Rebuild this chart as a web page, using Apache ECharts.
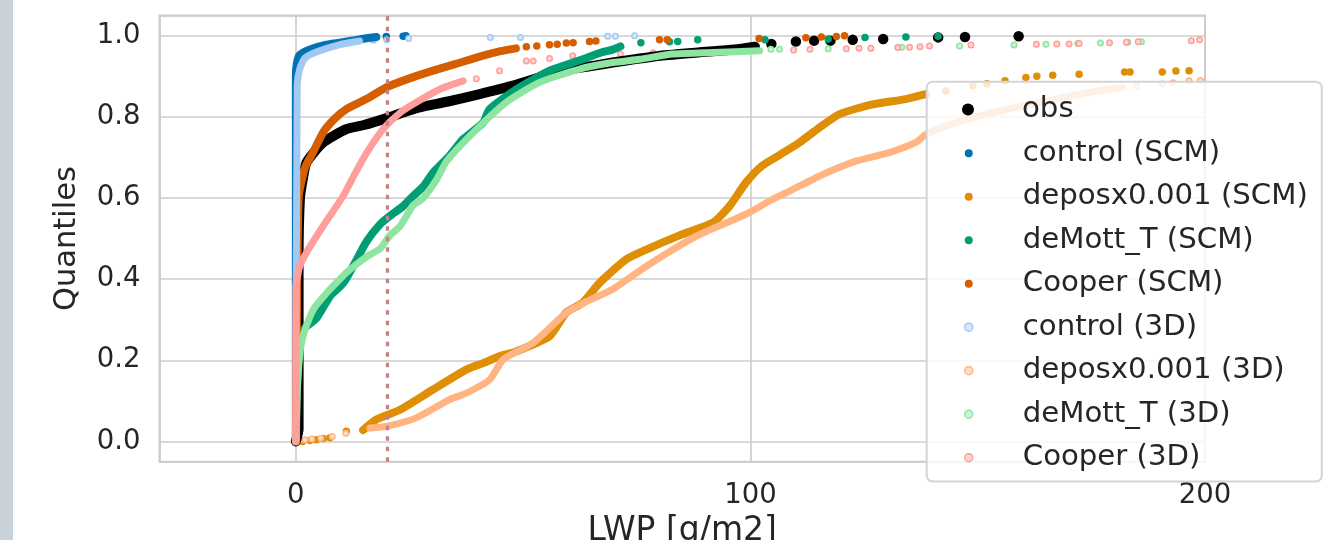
<!DOCTYPE html>
<html>
<head>
<meta charset="utf-8">
<script src="https://cdn.jsdelivr.net/npm/echarts@6/dist/echarts.min.js"></script>
<style>
  html, body { margin: 0; padding: 0; background: #fff; }
  #main { width: 1330px; height: 540px; }
</style>
</head>
<body>
<div id="main"></div>
<script>
// quantile curves of LWP [g/m2], pairs are [LWP, quantile]
// "Curve" = dense part (drawn as a thick line), "Tail" = sparse single points
const obsCurve = [[0, 0], [0.6, 0.03], [0.6, 0.45], [0.9, 0.6], [1.5, 0.645], [2.35, 0.688], [6, 0.737],
  [11.1, 0.77], [15, 0.78], [20, 0.797], [23.6, 0.811], [27, 0.823], [33.5, 0.838], [40, 0.855], [47.8, 0.877],
  [55.8, 0.905], [59.5, 0.916], [66, 0.927], [69.7, 0.934], [75, 0.943], [80.2, 0.951], [88.5, 0.959],
  [96.5, 0.966], [101, 0.973]];
const obsTail = [[104.6, 0.98], [110, 0.986], [114, 0.988], [117.6, 0.988], [122.5, 0.99], [129.2, 0.992],
  [141.3, 0.996], [147.2, 0.997], [159, 0.999]];

const controlScmCurve = [[0, 0], [0, 0.9], [0.2, 0.93], [0.8, 0.952], [3.1, 0.966], [6.7, 0.978],
  [11.9, 0.987], [15.5, 0.994], [17.7, 0.997]];
const controlScmTail = [[19.9, 0.998], [23.6, 0.999], [24.2, 1.0]];

const deposScmCurve = [[14.8, 0.028], [17.7, 0.054], [22.9, 0.078], [30.2, 0.128], [37.5, 0.177],
  [41.2, 0.193], [44.8, 0.21], [48.5, 0.222], [55.8, 0.259], [59.5, 0.318], [63.1, 0.342], [66.8, 0.391],
  [72.7, 0.449], [77.1, 0.473], [84.4, 0.508], [91.7, 0.539], [95.4, 0.58], [99, 0.638], [102.5, 0.679],
  [106.4, 0.706], [110.8, 0.737], [115.2, 0.774], [119.6, 0.807], [126.9, 0.831], [134.2, 0.844],
  [138.6, 0.856]];
const deposScmTail = [[1.5, 0.0], [3.1, 0.002], [4.5, 0.004], [6, 0.007], [7.5, 0.009], [11.1, 0.025],
  [143, 0.864], [148.9, 0.877], [152, 0.882], [156, 0.889], [160.6, 0.897], [163, 0.9], [166.5, 0.903],
  [172.3, 0.905], [182.3, 0.911], [183.5, 0.911], [190.6, 0.911], [193.6, 0.913], [196.5, 0.914]];

const demottScmCurve = [[0, 0], [0.3, 0.15], [0.9, 0.26], [2, 0.28], [4.6, 0.305], [7.5, 0.358],
  [10.4, 0.39], [13, 0.44], [15.5, 0.492], [18.5, 0.535], [20.7, 0.556], [23.6, 0.58], [25.8, 0.605],
  [28, 0.628], [30.2, 0.663], [33.8, 0.704], [36.8, 0.745], [41.2, 0.786], [42.6, 0.819], [48.5, 0.868],
  [55.8, 0.914], [63.1, 0.942], [67, 0.958], [69.7, 0.966], [71.4, 0.974]];
const demottScmTail = [[75.9, 0.983], [82.2, 0.985], [84, 0.986], [88.4, 0.99], [103.2, 0.99],
  [117.1, 0.992], [125.2, 0.996], [134.2, 0.997], [141.3, 0.999]];

const cooperScmCurve = [[0, 0], [0.3, 0.4], [0.6, 0.6], [1.2, 0.64], [2.2, 0.68], [3.8, 0.713], [6, 0.762],
  [8.5, 0.795], [11.1, 0.819], [15.5, 0.844], [19.9, 0.873], [25, 0.895], [30.2, 0.914], [35, 0.93],
  [41.2, 0.951], [45, 0.962], [48.4, 0.969]];
const cooperScmTail = [[50.7, 0.973], [53, 0.975], [55.8, 0.978], [57.5, 0.979], [59.5, 0.982], [61, 0.983],
  [64.6, 0.986], [66, 0.987], [80, 0.99], [81.7, 0.99], [101.9, 0.993], [112.2, 0.995], [115.6, 0.997],
  [118.9, 0.998], [120.7, 1.0]];

const control3dCurve = [[0, 0], [0.3, 0.88], [0.9, 0.92], [2, 0.945], [4.5, 0.96], [9.7, 0.978], [14, 0.987]];
const control3dTail = [[17, 0.989], [20, 0.99], [24.8, 0.993], [42.8, 0.996], [49.4, 0.996], [68.6, 0.999],
  [70.3, 0.999], [74.5, 1.0]];

const depos3dCurve = [[16.3, 0.033], [19.9, 0.037], [26.5, 0.058], [33.8, 0.103], [37.5, 0.119],
  [42.6, 0.152], [45.6, 0.202], [52.2, 0.243], [59.5, 0.317], [64, 0.345], [69.7, 0.375], [77.1, 0.432],
  [88.1, 0.506], [99, 0.56], [104.9, 0.597], [108.6, 0.617], [115.9, 0.658], [123.2, 0.691], [130.5, 0.712],
  [136.4, 0.737], [138.6, 0.757], [145.2, 0.786], [151.8, 0.807], [159.8, 0.827], [167.2, 0.844],
  [174.5, 0.86], [181.8, 0.873]];
const depos3dTail = [[0.8, 0.002], [2, 0.004], [3.5, 0.006], [5.5, 0.008], [8, 0.012], [11, 0.02],
  [185, 0.876], [190.6, 0.881], [193, 0.884], [196.5, 0.889], [199, 0.89]];

const demott3dCurve = [[0, 0], [0.3, 0.12], [0.9, 0.219], [1.6, 0.26], [2.3, 0.284], [3.8, 0.325],
  [7.5, 0.375], [9.7, 0.4], [11.1, 0.416], [15.5, 0.455], [18.5, 0.475], [20.7, 0.508], [22.9, 0.53],
  [25.8, 0.582], [28, 0.6], [31, 0.646], [33.1, 0.69], [39, 0.761], [46.3, 0.836], [53.6, 0.885],
  [62.4, 0.918], [69.7, 0.934], [75.6, 0.942], [82.9, 0.955], [91.7, 0.959], [102, 0.963]];
const demott3dTail = [[104.5, 0.967], [106.4, 0.967], [117.1, 0.968], [133.3, 0.972], [146, 0.975],
  [158, 0.977], [165, 0.979], [172, 0.981], [177, 0.982], [183, 0.984], [186, 0.985]];

const cooper3dCurve = [[0, 0], [0, 0.38], [0.8, 0.43], [2.35, 0.466], [6, 0.531], [10.4, 0.605],
  [13, 0.66], [15.5, 0.71], [19.2, 0.77], [22.9, 0.81], [26.5, 0.836], [32, 0.87], [36.8, 0.889]];
const cooper3dTail = [[39.7, 0.894], [44.8, 0.914], [50.7, 0.938], [52.2, 0.938], [55.8, 0.944],
  [60.9, 0.951], [65.5, 0.952], [71.4, 0.955], [78.6, 0.958], [84, 0.959], [91.1, 0.96], [93.4, 0.962],
  [109.5, 0.965], [113.1, 0.967], [121.1, 0.968], [123.9, 0.969], [126.5, 0.969], [132.4, 0.971],
  [135, 0.972], [137.3, 0.973], [139.4, 0.975], [148.5, 0.977], [162.9, 0.979], [167.4, 0.98],
  [170.1, 0.98], [172.3, 0.981], [179, 0.983], [182.7, 0.984], [185.3, 0.985], [197, 0.988], [198.8, 0.99]];

const xTicksMin = -30, xTicksMax = 200;
const yTicksMin = -0.05, yTicksMax = 1.05;
const refLine = 20;

const FONT = 'DejaVu Sans';
const TXT = '#262626';

// name, curve, tail, colour, fill, line width, dot size
const groups = [
  ['obs', obsCurve, obsTail, '#000000', '#000000', 10, 10.5],
  ['control (SCM)', controlScmCurve, controlScmTail, '#0173b2', '#0173b2', 8, 7.5],
  ['deposx0.001 (SCM)', deposScmCurve, deposScmTail, '#de8f05', '#de8f05', 8, 7.5],
  ['deMott_T (SCM)', demottScmCurve, demottScmTail, '#029e73', '#029e73', 8, 7.5],
  ['Cooper (SCM)', cooperScmCurve, cooperScmTail, '#d55e00', '#d55e00', 8, 7.5],
  ['control (3D)', control3dCurve, control3dTail, '#a1c9f4', '#d6e8fb', 7, 5.5],
  ['deposx0.001 (3D)', depos3dCurve, depos3dTail, '#ffb482', '#ffdcc4', 7, 5.5],
  ['deMott_T (3D)', demott3dCurve, demott3dTail, '#8de5a1', '#cdf4d5', 7, 5.5],
  ['Cooper (3D)', cooper3dCurve, cooper3dTail, '#ff9f9b', '#ffd4d2', 7, 5.5],
];

const series = [];
groups.forEach(function (g) {
  const ring = g[4] !== g[3];
  series.push({
    name: g[0],
    type: 'scatter',
    data: g[2],
    symbolSize: g[6],
    silent: true,
    itemStyle: { color: g[4], borderColor: g[3], borderWidth: ring ? 1.5 : 0, opacity: 1 },
  });
  series.push({
    name: g[0],
    type: 'line',
    data: g[1],
    showSymbol: false,
    symbol: 'none',
    smooth: 0.2,
    silent: true,
    lineStyle: { color: g[3], width: g[5], cap: 'round', join: 'round' },
  });
});
// dotted reference line at LWP = 20
series[series.length - 1].markLine = {
  silent: true,
  symbol: 'none',
  label: { show: false },
  z: 10,
  lineStyle: { color: '#c48484', type: [4.5, 6], width: 3.3, cap: 'butt' },
  data: [{ xAxis: refLine }],
};

const legendItems = groups.slice(1).map(function (g) {
  const ring = g[4] !== g[3];
  return {
    name: g[0],
    icon: 'circle',
    itemStyle: { color: g[4], borderColor: g[3], borderWidth: ring ? 1.5 : 0 },
  };
});

const legendText = { fontFamily: FONT, fontSize: 29.2, color: TXT, lineHeight: 30, padding: [0, 0, 0, 7] };

const chart = echarts.init(document.getElementById('main'), null, { renderer: 'canvas' });
chart.setOption({
  animation: false,
  backgroundColor: '#ffffff',
  graphic: [{
    type: 'rect', left: 0, top: 0, z: 0,
    shape: { width: 13, height: 540 },
    style: { fill: '#c9d1d9' },
  }],
  grid: {
    left: 159.5, right: 125, top: 15.5, bottom: 78.3,
    outerBoundsMode: 'none',
    show: true, borderColor: '#cccccc', borderWidth: 2, backgroundColor: 'transparent',
  },
  legend: [{
    data: [{ name: 'obs', icon: 'circle', itemStyle: { color: '#000000', borderWidth: 0 } }],
    orient: 'vertical',
    left: 962, top: 94.5,
    padding: 0,
    itemWidth: 84, itemHeight: 12,
    textStyle: legendText,
    z: 8,
    selectedMode: false,
  }, {
    data: legendItems,
    orient: 'vertical',
    left: 926.7, top: 81.7,
    padding: [56.5, 14, 8.8, 37.3],
    itemGap: 13.5,
    itemWidth: 84, itemHeight: 8,
    textStyle: legendText,
    backgroundColor: 'rgba(255,255,255,0.8)',
    borderColor: '#d4d4d4', borderWidth: 2, borderRadius: 6,
    z: 7,
    selectedMode: false,
  }],
  xAxis: {
    type: 'value',
    min: xTicksMin, max: xTicksMax, splitNumber: 2,
    axisLine: { show: false }, axisTick: { show: false },
    axisLabel: { fontFamily: FONT, fontSize: 27.5, color: TXT, margin: 20, showMinLabel: false },
    splitLine: { lineStyle: { color: '#cccccc', width: 1.6 } },
    name: 'LWP [g/m2]', nameLocation: 'middle', nameGap: 51,
    nameTextStyle: { fontFamily: FONT, fontSize: 33, color: TXT },
  },
  yAxis: {
    type: 'value',
    min: yTicksMin, max: yTicksMax, splitNumber: 5,
    axisLine: { show: false }, axisTick: { show: false },
    axisLabel: {
      fontFamily: FONT, fontSize: 27.5, color: TXT, margin: 19,
      showMinLabel: false, showMaxLabel: false,
      formatter: function (v) { return v.toFixed(1); },
    },
    splitLine: { lineStyle: { color: '#cccccc', width: 1.6 } },
    name: 'Quantiles', nameLocation: 'middle', nameGap: 76.5,
    nameTextStyle: { fontFamily: FONT, fontSize: 30.5, color: TXT },
  },
  series: series,
});
</script>
</body>
</html>
